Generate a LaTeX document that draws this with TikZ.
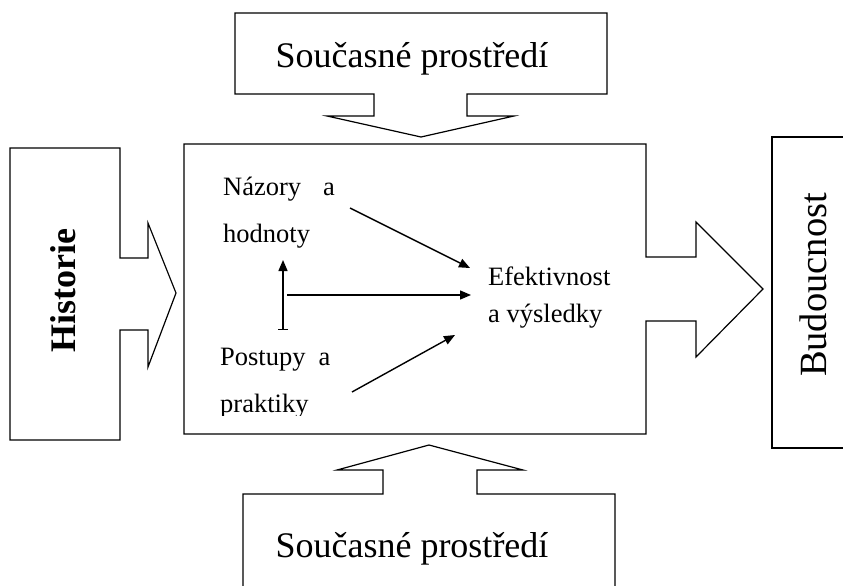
\documentclass[tikz,border=0pt]{standalone}
\usepackage{fontspec}
\setmainfont{Liberation Serif}
\usetikzlibrary{arrows.meta}
\begin{document}
\begin{tikzpicture}[x=1pt,y=-1pt,
  blk/.style={draw=black,line width=1.2pt,line join=miter},
  big/.style={font=\fontsize{36}{40}\selectfont,inner sep=0pt,anchor=base},
  small/.style={font=\fontsize{26.5}{30}\selectfont,inner sep=0pt,anchor=base west},
  conn/.style={line width=1.4pt,-{Triangle[length=11pt,width=9pt]}}]
\useasboundingbox (0,0) rectangle (843,586);
\clip (0,0) rectangle (843,586);
% top block arrow
\draw[blk] (235,13) -- (607,13) -- (607,94) -- (467,94) -- (467,116) -- (514,116)
  -- (421,137) -- (327,116) -- (374,116) -- (374,94) -- (235,94) -- cycle;
% bottom block arrow
\draw[blk] (243,600) -- (243,494) -- (383,494) -- (383,470) -- (337,470) -- (429,445)
  -- (523,470) -- (477,470) -- (477,494) -- (615,494) -- (615,600);
% Historie block arrow
\draw[blk] (10,148) -- (120,148) -- (120,258) -- (148,258) -- (148,223) -- (176,293)
  -- (148,367) -- (148,330) -- (120,330) -- (120,440) -- (10,440) -- cycle;
% main box with right arrow
\draw[blk] (184,144) -- (646,144) -- (646,257) -- (696,257) -- (696,222) -- (763,289)
  -- (696,357) -- (696,321) -- (646,321) -- (646,434) -- (184,434) -- cycle;
% Budoucnost box
\draw[blk] (860,137) -- (772,137) -- (772,448) -- (860,448);
% big texts
\node[big] (envtop) at (412,67) {Současné prostředí};
\node[big] (envbot) at (412,557) {Současné prostředí};
\node[big,rotate=90,font=\fontsize{36}{40}\selectfont\bfseries] (hist) at (75,291) {Historie};
\node[big,rotate=90,font=\fontsize{38.5}{42}\selectfont] (fut) at (826,285) {Budoucnost};
% inner texts
\node[small] (naz1) at (223,195) {Názory\hspace{22pt}a};
\node[small] (naz2) at (223,242) {hodnoty};
\node[small] (post1) at (220,365) {Postupy\hspace{13pt}a};
\begin{scope}
\clip (0,0) rectangle (843,415);
\node[small] (post2) at (220,412) {praktiky};
\end{scope}
\node[small] (ef1) at (488,285) {Efektivnost};
\node[small] (ef2) at (488,322) {a výsledky};
% connectors
\coordinate (a1s) at (350,208);
\coordinate (a1e) at (470,268);
\coordinate (a2s) at (287,295);
\coordinate (a2e) at (471,295);
\coordinate (a3s) at (352,392);
\coordinate (a3e) at (455,335);
\coordinate (vs) at (283,330);
\coordinate (ve) at (283,260);
\draw[conn] (a1s) -- (a1e);
\draw[conn] (a2s) -- (a2e);
\draw[conn] (a3s) -- (a3e);
\draw[line width=1.4pt,{Bar[width=10pt]}-{Triangle[length=11pt,width=9pt]}] (vs) -- (ve);
\end{tikzpicture}
\end{document}
